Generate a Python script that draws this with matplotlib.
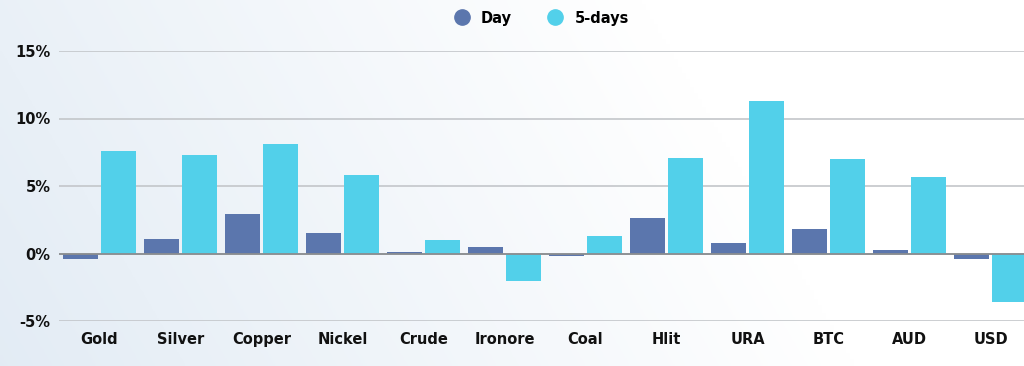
import matplotlib
matplotlib.use("Agg")
import matplotlib.pyplot as plt
import numpy as np
from matplotlib.lines import Line2D
from matplotlib.patches import FancyBboxPatch

categories = ["Gold", "Silver", "Copper", "Nickel", "Crude", "Ironore", "Coal", "Hlit", "URA", "BTC", "AUD", "USD"]
day = [-0.4, 1.1, 2.9, 1.5, 0.1, 0.45, -0.2, 2.6, 0.8, 1.8, 0.25, -0.4]
five_days = [7.6, 7.3, 8.1, 5.8, 1.0, -2.0, 1.3, 7.1, 11.3, 7.0, 5.7, -3.6]
yticks = [-5, 0, 5, 10, 15]
ytick_labels = ["-5%", "0%", "5%", "10%", "15%"]

W, H = 1024, 366
fig = plt.figure(figsize=(W / 100, H / 100), dpi=100)

# background gradient
bg = fig.add_axes([0, 0, 1, 1], zorder=-10)
xx = np.linspace(0, 1, 256)
yy = np.linspace(0, 1, 128)
X, Y = np.meshgrid(xx, yy)
c0 = np.array([0.89, 0.925, 0.96])
c1 = np.array([1.0, 1.0, 1.0])
f = np.clip(X * 1.2 + (1 - Y) * 0.25, 0, 1)[..., None]
img = c0 * (1 - f) + c1 * f
bg.imshow(img, aspect="auto", extent=[0, 1, 0, 1], origin="upper")
bg.axis("off")

left = 59 / W
bottom = 45 / H
height = 270 / H
ax = fig.add_axes([left, bottom, 1 - left, height])
ax.set_facecolor("none")

x = np.arange(len(categories))
bw = 0.43
off = 0.235
b1 = ax.bar(x - off, day, width=bw, color="#5b76ad", zorder=3)
b2 = ax.bar(x + off, five_days, width=bw, color="#52d0ea", zorder=3)

ax.set_ylim(-5, 15)
ax.set_xlim(-0.5, -0.5 + (W - 59) / 81)
ax.set_yticks(yticks)
ax.set_yticklabels(ytick_labels, fontsize=10.5, fontweight="bold", color="#111111")
ax.set_xticks(x)
ax.set_xticklabels(categories, fontsize=10.5, fontweight="bold", color="#111111")
ax.tick_params(axis="both", length=0)
ax.tick_params(axis="y", pad=6)
ax.tick_params(axis="x", pad=8)
for s in ax.spines.values():
    s.set_visible(False)
ax.grid(axis="y", color="#c3c6ca", linewidth=1.2, zorder=0)
ax.axhline(0, color="#8a8d90", linewidth=1.3, zorder=4)

handles = [Line2D([], [], marker="o", linestyle="", markersize=11, color="#5b76ad", label="Day"),
           Line2D([], [], marker="o", linestyle="", markersize=11, color="#52d0ea", label="5-days")]
fig.legend(handles=handles, loc="center", bbox_to_anchor=(538 / W, 1 - 18 / H), ncol=2, frameon=False,
           prop={"weight": "bold", "size": 10.5}, handletextpad=0.3, columnspacing=2.0)

fig.savefig("out.png", dpi=100)
